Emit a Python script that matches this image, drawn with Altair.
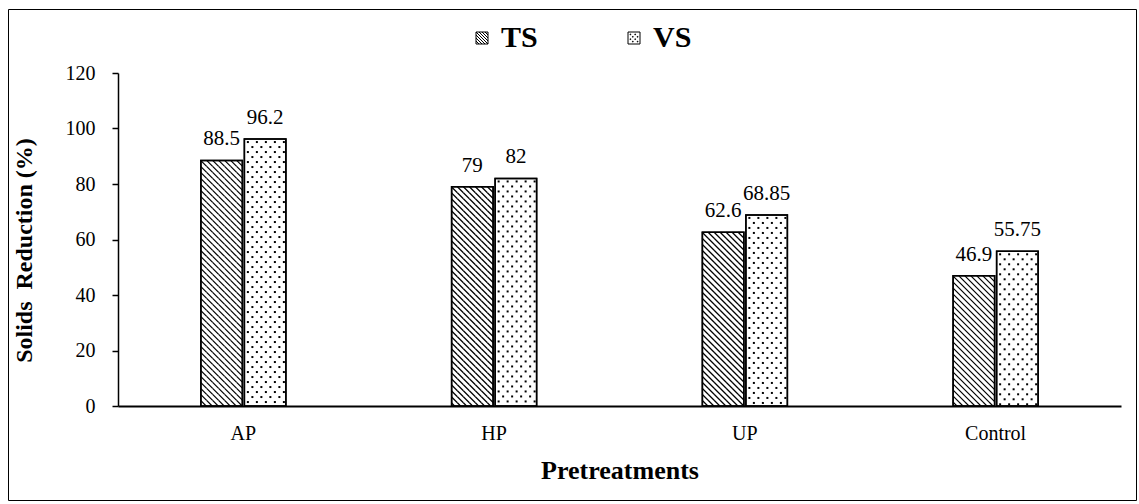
import altair as alt
import pandas as pd

# ---- data -------------------------------------------------------------
pretreatments = ["AP", "HP", "UP", "Control"]
series = ["TS", "VS"]
ts_values = [88.5, 79, 62.6, 46.9]
vs_values = [96.2, 82, 68.85, 55.75]

FONT = "Times New Roman, Liberation Serif, serif"

# ---- geometry of the plot area ---------------------------------------
W, H = 1003, 333
Y_MAX = 120
PX_PER_UNIT = H / Y_MAX

X_PAD_INNER = 0.661
X_PAD_OUTER = X_PAD_INNER / 2
STEP = W / (len(pretreatments) - X_PAD_INNER + 2 * X_PAD_OUTER)
BAND = STEP * (1 - X_PAD_INNER)          # width of one TS+VS group
OFF_PAD = 0.046
OFF_STEP = BAND / (2 - OFF_PAD)
BAR_W = OFF_STEP * (1 - OFF_PAD)          # width of a single bar

# ---- bar table ---------------------------------------------------------
rows = []
for p, ts, vs in zip(pretreatments, ts_values, vs_values):
    rows.append({"Pretreatment": p, "Type": "TS", "value": ts})
    rows.append({"Pretreatment": p, "Type": "VS", "value": vs})
bars_df = pd.DataFrame(rows)
bars_df["label"] = bars_df["value"].map(lambda v: f"{v:g}")

# ---- fill textures: diagonal hatch for TS, dotted for VS ---------------
HATCH = 6.0
hatch_rows = []
n_cols = round(BAR_W / HATCH)
x_start = (BAR_W - n_cols * HATCH) / 2
for p, v in zip(pretreatments, ts_values):
    top_px = v * PX_PER_UNIT
    for j in range(int(top_px // HATCH) + 1):
        yc = v - (j + 0.5) * HATCH / PX_PER_UNIT
        for i in range(n_cols):
            hatch_rows.append({"Pretreatment": p,
                               "off": x_start + (i + 0.5) * HATCH,
                               "y": yc})
hatch_df = pd.DataFrame(hatch_rows)

DOT_DX, DOT_DY = 9.0, 5.0
dot_rows = []
for p, v in zip(pretreatments, vs_values):
    top_px = v * PX_PER_UNIT
    j = 0
    while 3 + j * DOT_DY < top_px - 1:
        depth = 3 + j * DOT_DY
        xo = 3.5 + (DOT_DX / 2 if j % 2 else 0)
        while xo < BAR_W - 2:
            dot_rows.append({"Pretreatment": p,
                             "off": OFF_STEP + xo,
                             "y": v - depth / PX_PER_UNIT})
            xo += DOT_DX
        j += 1
dots_df = pd.DataFrame(dot_rows)


# ---- legend icons (custom symbol paths) --------------------------------
def hatch_icon():
    parts = ["M-1,-1H1V1H-1Z"]
    for c in [-1.5, -1.0, -0.5, 0.0, 0.5, 1.0, 1.5]:
        x0, x1 = max(-1, -1 - c), min(1, 1 - c)
        parts.append(f"M{x0:.3f},{x0 + c:.3f}L{x1:.3f},{x1 + c:.3f}")
    return "".join(parts)


def dot_icon():
    parts = ["M-1,-1H1V1H-1Z"]
    for r, yy in enumerate([-0.6, -0.2, 0.2, 0.6]):
        xs = [-0.6, 0.2] if r % 2 == 0 else [-0.2, 0.6]
        for xx in xs:
            parts.append(f"M{xx - 0.06:.2f},{yy - 0.06:.2f}h0.12v0.12h-0.12Z")
    return "".join(parts)


# ---- shared scales and axes ---------------------------------------------
x_axis = alt.Axis(
    title="Pretreatments",
    labelAngle=0,
    ticks=False,
    labelPadding=17,
    titlePadding=14,
    titleFontSize=26,
    domainWidth=2,
)
x_enc = alt.X(
    "Pretreatment:N",
    sort=pretreatments,
    scale=alt.Scale(paddingInner=X_PAD_INNER, paddingOuter=X_PAD_OUTER),
    axis=x_axis,
)
y_scale = alt.Scale(domain=[0, Y_MAX], nice=False)
y_axis = alt.Axis(
    title="Solids\u00a0 Reduction (%)",
    values=[0, 20, 40, 60, 80, 100, 120],
    tickSize=6,
    labelPadding=17,
    titleX=-94,
    titleY=177,
    titleBaseline="middle",
    titleFontSize=24,
)


def y_of(field):
    return alt.Y(field, scale=y_scale, axis=y_axis)


def off_nominal():
    return alt.XOffset(
        "Type:N", sort=series,
        scale=alt.Scale(type="band", paddingInner=OFF_PAD, paddingOuter=0),
    )


off_quant = alt.XOffset(
    "off:Q", scale=alt.Scale(domain=[0, BAND], range=[0, BAND], nice=False, zero=False)
)

# ---- layers ---------------------------------------------------------------
bars = alt.Chart(bars_df).mark_bar(
    fill="white", stroke="black", strokeWidth=1.5
).encode(x=x_enc, xOffset=off_nominal(), y=y_of("value:Q"))

hatch = alt.Chart(hatch_df).mark_point(
    shape="M-1,-1L1,1", size=HATCH * HATCH, filled=False,
    stroke="black", strokeWidth=1.3, opacity=1, clip=True,
).encode(x=x_enc, xOffset=off_quant, y=y_of("y:Q"))

dots = alt.Chart(dots_df).mark_square(
    size=4, color="black", opacity=1, clip=True
).encode(x=x_enc, xOffset=off_quant, y=y_of("y:Q"))

outline = alt.Chart(bars_df).mark_bar(
    fill="transparent", stroke="black", strokeWidth=1.5
).encode(x=x_enc, xOffset=off_nominal(), y=y_of("value:Q"))

labels = alt.Chart(bars_df).mark_text(
    font=FONT, fontSize=21, color="black", baseline="bottom", dy=-11
).encode(x=x_enc, xOffset=off_nominal(), y=y_of("value:Q"), text="label:N")

key = alt.Chart(bars_df).mark_point(
    filled=False, color="black", opacity=0
).encode(
    x=x_enc, xOffset=off_nominal(), y=y_of("value:Q"),
    shape=alt.Shape(
        "Type:N",
        sort=series,
        scale=alt.Scale(domain=series, range=[hatch_icon(), dot_icon()]),
        legend=alt.Legend(
            title=None,
            orient="none",
            legendX=349,
            legendY=-50,
            direction="horizontal",
            labelFont=FONT,
            labelFontSize=30,
            labelFontWeight="bold",
            labelColor="black",
            labelOffset=4,
            symbolSize=144,
            symbolStrokeWidth=1,
            symbolStrokeColor="black",
            symbolOpacity=1,
            columnPadding=81,
            padding=0,
        ),
    ),
)

frame = alt.Chart(pd.DataFrame({"k": [0]})).mark_rect(
    filled=False, stroke="black", strokeWidth=1
).encode(
    x=alt.value(8.5 - 118), x2=alt.value(1136.5 - 118),
    y=alt.value(9.5 - 73), y2=alt.value(500.5 - 73),
)

chart = (
    alt.layer(bars, hatch, dots, outline, labels, key, frame)
    .resolve_scale(xOffset="independent")
    .properties(
        width=W,
        height=H,
        autosize=alt.AutoSizeParams(type="none"),
        padding={"left": 118, "top": 73, "right": 18, "bottom": 98},
        background="white",
    )
    .configure_view(stroke=None)
    .configure_axis(
        grid=False,
        domainColor="black",
        domainWidth=1.5,
        tickColor="black",
        tickWidth=1.5,
        labelFont=FONT,
        labelFontSize=20,
        labelColor="black",
        titleFont=FONT,
        titleFontWeight="bold",
        titleColor="black",
    )
    .configure_legend(
        labelFont=FONT,
        labelFontSize=30,
        labelFontWeight="bold",
        labelColor="black",
    )
)

chart.save("out.html", embed_options={"renderer": "svg", "actions": False})
